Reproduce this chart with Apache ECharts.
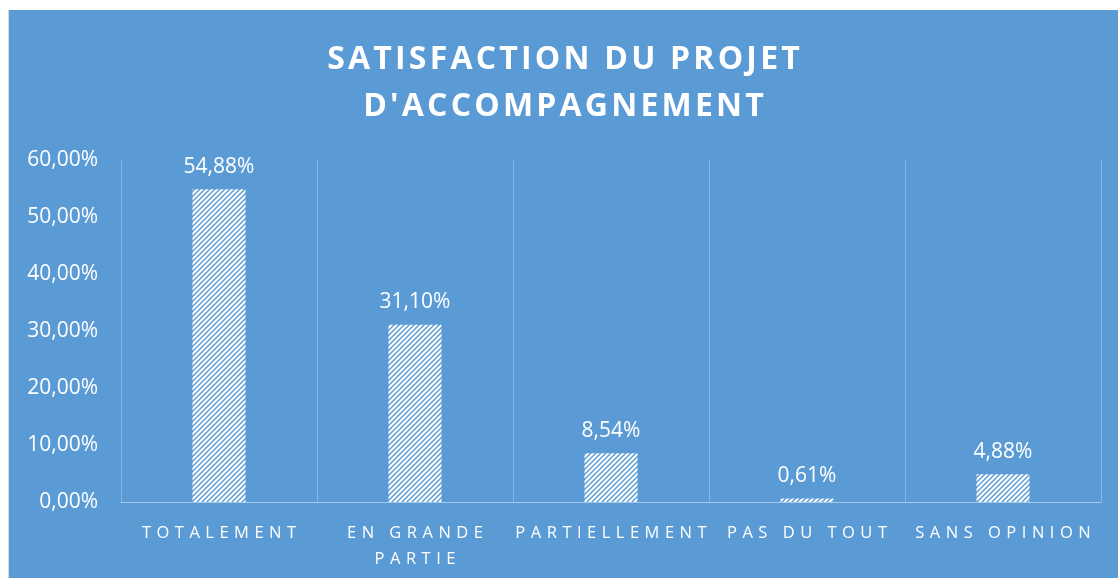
<!DOCTYPE html>
<html><head><meta charset="utf-8">
<script src="https://cdn.jsdelivr.net/npm/echarts@6/dist/echarts.min.js"></script>
<style>
html,body{margin:0;padding:0;background:#fff;width:1118px;height:578px;overflow:hidden;}
#c{position:absolute;left:8px;top:10px;width:1110px;height:568px;border-left:1px solid #d9d9d9;box-sizing:border-box;}
</style></head>
<body><div id="c"></div>
<script>
const titleLines = ["SATISFACTION DU PROJET", "D'ACCOMPAGNEMENT"];
const categories = ["TOTALEMENT", "EN GRANDE PARTIE", "PARTIELLEMENT", "PAS DU TOUT", "SANS OPINION"];
const values = [54.88, 31.10, 8.54, 0.61, 4.88];
const yTicks = {min: 0, max: 60, interval: 10};

function fmt(v){ return v.toFixed(2).replace('.', ',') + '%'; }
function spaced(s, sp){ return s.split('').join(sp); }

const pc = document.createElement('canvas');
pc.width = 5; pc.height = 5;
const g = pc.getContext('2d');
g.fillStyle = '#ffffff'; g.fillRect(0,0,5,5);
g.strokeStyle = '#5b9bd5'; g.lineWidth = 1.4;
g.beginPath(); g.moveTo(-1,6); g.lineTo(6,-1); g.stroke();
g.beginPath(); g.moveTo(-1,1); g.lineTo(1,-1); g.stroke();
g.beginPath(); g.moveTo(4,6); g.lineTo(6,4); g.stroke();

const chart = echarts.init(document.getElementById('c'));
chart.setOption({
  backgroundColor: '#5b9bd5',
  animation: false,
  title: {
    text: titleLines.map(function(l){ return spaced(l, '\u200A'); }).join('\n'), left: 'center', top: 21,
    textStyle: {color: '#ffffff', fontFamily: 'Open Sans', fontWeight: 'bold', fontSize: 32, lineHeight: 47}
  },
  grid: {left: 112, right: 17, top: 150, bottom: 76, outerBoundsMode: 'none', containLabel: false},
  xAxis: {
    type: 'category', data: categories,
    axisLine: {show: true, lineStyle: {color: '#a9c9ea', width: 1}},
    axisTick: {show: false},
    splitLine: {show: true, lineStyle: {color: '#86b5e3', width: 1}},
    axisLabel: {
      color: '#ffffff', fontFamily: 'Open Sans', fontSize: 16.5, margin: 18, lineHeight: 26,
      interval: 0,
      formatter: function(v){
        if (v === 'EN GRANDE PARTIE') return spaced('EN GRANDE', '\u2004') + '\n' + spaced('PARTIE', '\u2004');
        return spaced(v, '\u2004');
      }
    }
  },
  yAxis: {
    type: 'value', min: yTicks.min, max: yTicks.max, interval: yTicks.interval,
    axisLine: {show: false}, axisTick: {show: false}, splitLine: {show: false},
    axisLabel: {color: '#ffffff', fontFamily: 'Open Sans', fontSize: 21, margin: 23, formatter: fmt}
  },
  series: [{
    type: 'bar', data: values, barWidth: 53,
    itemStyle: {color: {image: pc, repeat: 'repeat'}},
    label: {show: true, position: 'top', distance: 12, color: '#ffffff', fontFamily: 'Open Sans', fontSize: 21,
      formatter: function(p){ return fmt(p.value); }}
  }]
});
</script></body></html>
